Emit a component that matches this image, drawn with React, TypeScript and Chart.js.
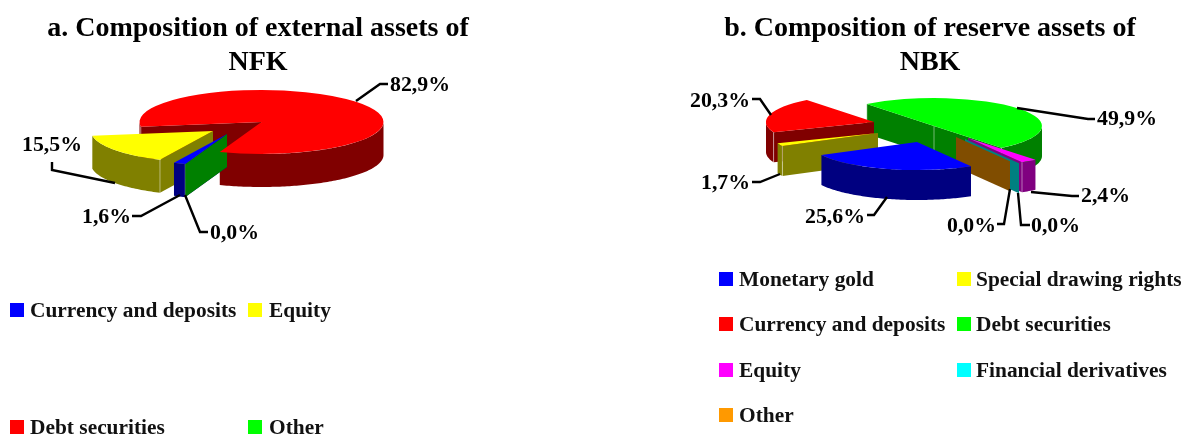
import React, { useEffect, useRef } from "react";
import { Chart, registerables } from "chart.js";

Chart.register(...registerables);

// ---------- data ----------
const labelsA = ["Currency and deposits", "Equity", "Debt securities", "Other"];
const valuesA = [1.6, 15.5, 82.9, 0.0];
const colorsA = ["#0000FF", "#FFFF00", "#FF0000", "#00FF00"];
const wallsA = ["#000080", "#808000", "#800000", "#008000"];

const labelsB = [
  "Monetary gold",
  "Special drawing rights",
  "Currency and deposits",
  "Debt securities",
  "Equity",
  "Financial derivatives",
  "Other",
];
const valuesB = [25.6, 1.7, 20.3, 49.9, 2.4, 0.0, 0.0];
const colorsB = ["#0000FF", "#FFFF00", "#FF0000", "#00FF00", "#FF00FF", "#00FFFF", "#FF9900"];
const wallsB = ["#000080", "#808000", "#800000", "#008000", "#800080", "#008080", "#804D00"];

const FONT = '"Liberation Serif"';

const layoutA = {
  left: 0,
  width: 516,
  title: ["a. Composition of external assets of", "NFK"],
  rotation: 200,
  cx: 260,
  cy: 122,
  rx: 122,
  ry: 32,
  depth: 33,
  explode: [[-33, 12], [-47, 9], [1.5, 0], [-33, 12]],
  wallOrder: [2, 1, 0, 3],
  // label anchor [x, y] and leader polyline for every slice, canvas px
  labels: [
    { x: 82, y: 217, line: [[180, 195], [141, 216], [132, 216]] },
    { x: 22, y: 145, line: [[115, 183], [52, 170], [52, 162]] },
    { x: 390, y: 85, line: [[356, 101], [380, 84], [388, 84]] },
    { x: 210, y: 233, line: [[185, 195], [200, 232], [208, 232]] },
  ],
  legend: [
    { sx: 10, sy: 303, tx: 30 },
    { sx: 248, sy: 303, tx: 269 },
    { sx: 10, sy: 420, tx: 30 },
    { sx: 248, sy: 420, tx: 269 },
  ],
};

const OB = 675;
const layoutB = {
  left: OB,
  width: 510,
  title: ["b. Composition of reserve assets of", "NBK"],
  rotation: 150,
  cx: 934 - OB,
  cy: 126,
  rx: 108,
  ry: 28,
  depth: 30,
  explode: [[-17, 16], [-56, 7], [-60, -4], [0, 0], [34, 12], [31, 13], [22, 11]],
  wallOrder: [3, 2, 1, 4, 5, 6, 0],
  labels: [
    { x: 805 - OB, y: 217, line: [[887 - OB, 197], [874 - OB, 215], [867 - OB, 215]] },
    { x: 701 - OB, y: 183, line: [[780 - OB, 174], [760 - OB, 182], [752 - OB, 182]] },
    { x: 690 - OB, y: 101, line: [[771 - OB, 115], [760 - OB, 99], [752 - OB, 99]] },
    { x: 1097 - OB, y: 119, line: [[1017 - OB, 108], [1088 - OB, 119], [1095 - OB, 119]] },
    { x: 1081 - OB, y: 196, line: [[1031 - OB, 192], [1072 - OB, 196], [1079 - OB, 196]] },
    { x: 947 - OB, y: 226, line: [[1010 - OB, 189], [1004 - OB, 224], [997 - OB, 224]] },
    { x: 1031 - OB, y: 226, line: [[1018 - OB, 193], [1021 - OB, 225], [1030 - OB, 225]] },
  ],
  legend: [
    { sx: 719 - OB, sy: 272, tx: 739 - OB },
    { sx: 957 - OB, sy: 272, tx: 976 - OB },
    { sx: 719 - OB, sy: 317, tx: 739 - OB },
    { sx: 957 - OB, sy: 317, tx: 976 - OB },
    { sx: 719 - OB, sy: 363, tx: 739 - OB },
    { sx: 957 - OB, sy: 363, tx: 976 - OB },
    { sx: 719 - OB, sy: 408, tx: 739 - OB },
  ],
};

const TAU = Math.PI * 2;

function makePiePlugin(layout: any, walls: string[]) {
  const k = layout.ry / layout.rx;
  const scrY = (el: any, a: number, r: number) =>
    layout.cy + (el.y - layout.cy) * k + r * k * Math.sin(a);
  const scrX = (el: any, a: number, r: number) => el.x + r * Math.cos(a);

  const seam = (ctx: CanvasRenderingContext2D, x: number, y: number) => {
    ctx.strokeStyle = "rgba(255,255,255,0.45)";
    ctx.lineWidth = 1;
    ctx.beginPath();
    ctx.moveTo(x, y);
    ctx.lineTo(x, y + layout.depth);
    ctx.stroke();
  };

  const radialWall = (ctx: CanvasRenderingContext2D, el: any, a: number, color: string) => {
    const x0 = scrX(el, a, 0);
    const y0 = scrY(el, a, 0);
    const x1 = scrX(el, a, el.outerRadius);
    const y1 = scrY(el, a, el.outerRadius);
    ctx.fillStyle = color;
    ctx.beginPath();
    ctx.moveTo(x0, y0);
    ctx.lineTo(x1, y1);
    ctx.lineTo(x1, y1 + layout.depth);
    ctx.lineTo(x0, y0 + layout.depth);
    ctx.closePath();
    ctx.fill();
  };

  const outerWall = (ctx: CanvasRenderingContext2D, el: any, s: number, e: number, color: string) => {
    const steps = Math.max(2, Math.ceil((e - s) / 0.02));
    ctx.fillStyle = color;
    ctx.beginPath();
    for (let i = 0; i <= steps; i++) {
      const a = s + ((e - s) * i) / steps;
      const x = scrX(el, a, el.outerRadius);
      const y = scrY(el, a, el.outerRadius);
      if (i === 0) ctx.moveTo(x, y);
      else ctx.lineTo(x, y);
    }
    for (let i = steps; i >= 0; i--) {
      const a = s + ((e - s) * i) / steps;
      ctx.lineTo(scrX(el, a, el.outerRadius), scrY(el, a, el.outerRadius) + layout.depth);
    }
    ctx.closePath();
    ctx.fill();
  };

  return {
    id: "flatPie" + layout.left,
    afterDatasetsUpdate(chart: any) {
      chart.getDatasetMeta(0).data.forEach((el: any, i: number) => {
        const [dx, dy] = layout.explode[i];
        el.x = layout.cx + dx;
        el.y = layout.cy + dy / k;
      });
    },
    beforeDatasetsDraw(chart: any) {
      const ctx: CanvasRenderingContext2D = chart.ctx;
      const arcs = chart.getDatasetMeta(0).data;
      layout.wallOrder.forEach((i: number) => {
        const el = arcs[i];
        const s = el.startAngle;
        const e = el.endAngle;
        const color = walls[i];
        const startVisible = Math.cos(s) < 0;
        const endVisible = Math.cos(e) > 0;
        if (startVisible) radialWall(ctx, el, s, color);
        if (endVisible) radialWall(ctx, el, e, color);
        if (e > s) {
          for (let n = -1; n <= 2; n++) {
            const lo = Math.max(s, n * TAU);
            const hi = Math.min(e, n * TAU + Math.PI);
            if (hi > lo) outerWall(ctx, el, lo, hi, color);
          }
          if (startVisible) seam(ctx, scrX(el, s, el.outerRadius), scrY(el, s, el.outerRadius));
          if (endVisible) seam(ctx, scrX(el, e, el.outerRadius), scrY(el, e, el.outerRadius));
          if (startVisible && endVisible) seam(ctx, scrX(el, s, 0), scrY(el, s, 0));
        }
      });
      ctx.save();
      ctx.translate(0, layout.cy);
      ctx.scale(1, k);
      ctx.translate(0, -layout.cy);
    },
    afterDatasetsDraw(chart: any) {
      const ctx: CanvasRenderingContext2D = chart.ctx;
      ctx.restore();
      const values = chart.data.datasets[0].data;
      const bg = chart.data.datasets[0].backgroundColor;

      // data labels with leader lines
      ctx.save();
      ctx.strokeStyle = "#000";
      ctx.lineWidth = 2.4;
      ctx.fillStyle = "#000";
      ctx.font = `bold 21.8px ${FONT}`;
      ctx.textAlign = "left";
      ctx.textBaseline = "middle";
      layout.labels.forEach((lab: any, i: number) => {
        ctx.beginPath();
        lab.line.forEach(([x, y]: number[], j: number) => (j ? ctx.lineTo(x, y) : ctx.moveTo(x, y)));
        ctx.stroke();
        ctx.fillText(values[i].toFixed(1).replace(".", ",") + "%", lab.x, lab.y);
      });

      // legend
      ctx.font = `bold 21.4px ${FONT}`;
      layout.legend.forEach((it: any, i: number) => {
        ctx.fillStyle = bg[i];
        ctx.fillRect(it.sx, it.sy, 14, 14);
        ctx.fillStyle = "#111";
        ctx.fillText(chart.data.labels[i], it.tx, it.sy + 8);
      });
      ctx.restore();
    },
  };
}

function PieCanvas({ layout, labels, values, colors, walls }: any) {
  const ref = useRef<HTMLCanvasElement>(null);
  useEffect(() => {
    const chart = new Chart(ref.current as HTMLCanvasElement, {
      type: "pie",
      data: {
        labels,
        datasets: [
          {
            data: values,
            backgroundColor: colors,
            borderWidth: 0,
            clip: false,
          } as any,
        ],
      },
      options: {
        responsive: false,
        animation: false,
        events: [],
        rotation: layout.rotation,
        radius: layout.rx,
        plugins: {
          legend: { display: false },
          tooltip: { enabled: false },
          title: {
            display: true,
            text: layout.title,
            color: "#000",
            font: { family: FONT, size: 28, weight: "bold", lineHeight: 1.21 },
            padding: { top: 12, bottom: 0 },
          },
        },
      } as any,
      plugins: [makePiePlugin(layout, walls)],
    });
    return () => chart.destroy();
  }, []);
  return (
    <canvas
      ref={ref}
      width={layout.width}
      height={434}
      style={{ position: "absolute", left: layout.left, top: 0, display: "block" }}
    />
  );
}

export default function App() {
  return (
    <div style={{ position: "absolute", left: 0, top: 0, width: 1185, height: 434, overflow: "hidden", background: "#fff" }}>
      <PieCanvas layout={layoutA} labels={labelsA} values={valuesA} colors={colorsA} walls={wallsA} />
      <PieCanvas layout={layoutB} labels={labelsB} values={valuesB} colors={colorsB} walls={wallsB} />
    </div>
  );
}
